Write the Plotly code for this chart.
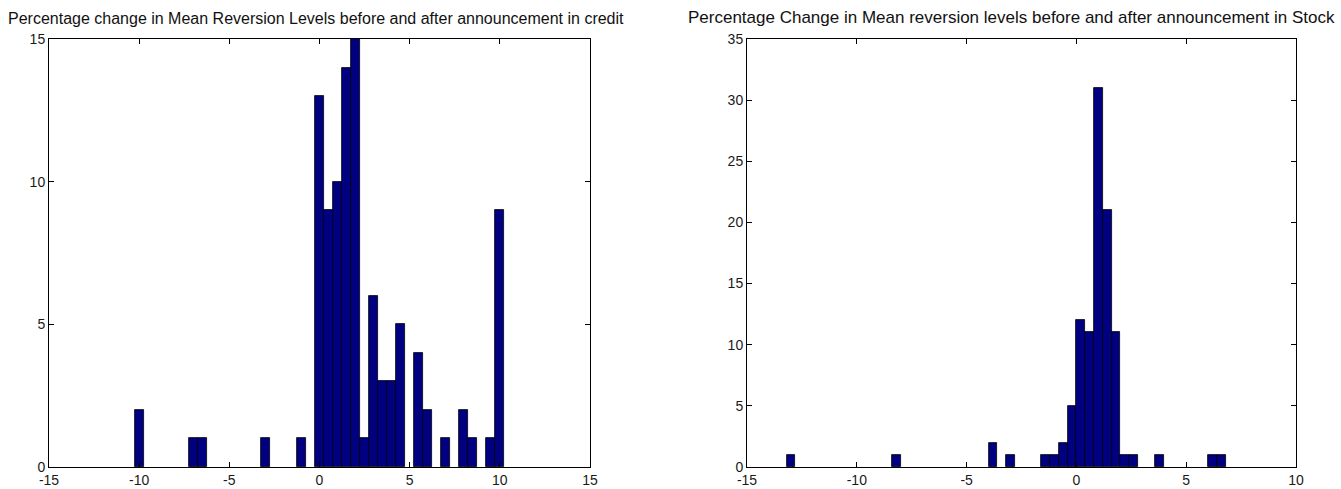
import plotly.graph_objects as go

# Left histogram: credit (bin centers, counts)
credit_centers = [-10, -7, -6.5, -3, -1, 0, 0.5, 1, 1.5, 2, 2.5, 3, 3.5, 4, 4.5,
                  5.5, 6, 7, 8, 8.5, 9.5, 10]
credit_counts = [2, 1, 1, 1, 1, 13, 9, 10, 14, 15, 1, 6, 3, 3, 5,
                 4, 2, 1, 2, 1, 1, 9]
credit_width = 0.5

# Right histogram: stock (bin centers, counts)
stock_centers = [-13.0, -8.2, -3.8, -3.0, -1.4, -1.0, -0.6, -0.2, 0.2, 0.6, 1.0,
                 1.4, 1.8, 2.2, 2.6, 3.8, 6.2, 6.6]
stock_counts = [1, 1, 2, 1, 1, 1, 2, 5, 12, 11, 31, 21, 11, 1, 1, 1, 1, 1]
stock_width = 0.4

left_title = "Percentage change in Mean Reversion Levels before and after announcement in credit"
right_title = "Percentage Change in Mean reversion levels before and after announcement in Stock"

left_xticks = [-15, -10, -5, 0, 5, 10, 15]
left_xlabels = ["-15", "-10", "-5", "0", "5", "10", "15"]
left_yticks = [0, 5, 10, 15]
right_xticks = [-15, -10, -5, 0, 5, 10]
right_xlabels = ["-15", "-10", "-5", "0", "5", "10"]
right_yticks = [0, 5, 10, 15, 20, 25, 30, 35]

W, H = 1341, 489
bar_color = "#000080"
fam = "Liberation Sans, Arial, sans-serif"
font = dict(family=fam, size=14, color="#1a1a1a")

fig = go.Figure()
fig.add_trace(go.Bar(x=credit_centers, y=credit_counts, width=credit_width,
                     marker=dict(color=bar_color, line=dict(color="black", width=0.8)),
                     xaxis="x", yaxis="y", showlegend=False))
fig.add_trace(go.Bar(x=stock_centers, y=stock_counts, width=stock_width,
                     marker=dict(color=bar_color, line=dict(color="black", width=0.8)),
                     xaxis="x2", yaxis="y2", showlegend=False))

ax_common = dict(showline=True, linecolor="black", linewidth=1, mirror="ticks",
                 ticks="inside", ticklen=5, tickcolor="black", showgrid=False,
                 zeroline=False, tickfont=font, automargin=False)

y_dom = [(H - 467) / H, (H - 39) / H]
fig.update_layout(
    width=W, height=H,
    margin=dict(l=0, r=0, t=0, b=0, autoexpand=False),
    paper_bgcolor="white", plot_bgcolor="white",
    bargap=0,
    font=font,
    xaxis=dict(domain=[49 / W, 590 / W], range=[-15, 15], tickvals=left_xticks,
               ticktext=left_xlabels, anchor="y", ticklabelstandoff=0, **ax_common),
    yaxis=dict(domain=y_dom, range=[0, 15], tickvals=left_yticks, anchor="x", **ax_common),
    xaxis2=dict(domain=[747 / W, 1296 / W], range=[-15, 10], tickvals=right_xticks,
                ticktext=right_xlabels, anchor="y2", ticklabelstandoff=0, **ax_common),
    yaxis2=dict(domain=y_dom, range=[0, 35], tickvals=right_yticks, anchor="x2", **ax_common),
    annotations=[
        dict(text=left_title, x=(49 + 590) / 2 / W - 4 / W, y=(H - 29) / H,
             xref="paper", yref="paper", xanchor="center", yanchor="bottom",
             showarrow=False, font=dict(family=fam, size=16, color="#111111")),
        dict(text=right_title, x=(747 + 1296) / 2 / W - 10 / W, y=(H - 29) / H,
             xref="paper", yref="paper", xanchor="center", yanchor="bottom",
             showarrow=False, font=dict(family=fam, size=17, color="#111111")),
    ],
)

fig.write_html("out.html", config={"displayModeBar": False},
               post_script="document.body.style.margin='0';document.body.style.overflow='hidden';")
